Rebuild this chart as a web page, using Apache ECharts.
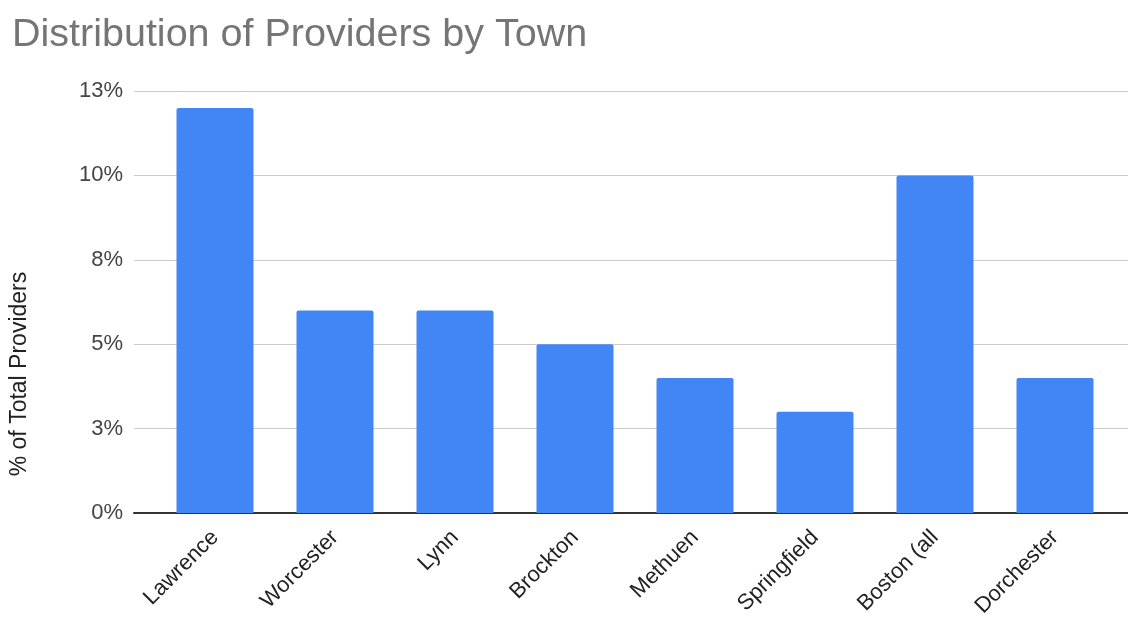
<!DOCTYPE html>
<html>
<head>
<meta charset="utf-8">
<script src="https://cdn.jsdelivr.net/npm/echarts@6/dist/echarts.min.js"></script>
<style>
  html, body { margin: 0; padding: 0; background: #fff; }
  #chart { width: 1128px; height: 625px; }
</style>
</head>
<body>
<div id="chart"></div>
<script>
// Share of all providers located in each town (percent)
const towns = ['Lawrence', 'Worcester', 'Lynn', 'Brockton', 'Methuen', 'Springfield', 'Boston (all', 'Dorchester'];
const shareOfProviders = [12, 6, 6, 5, 4, 3, 10, 4];
const yTicks = { min: 0, max: 12.5, step: 2.5 };

const FONT = '"Liberation Sans", Arial, sans-serif';
const chart = echarts.init(document.getElementById('chart'));

chart.setOption({
  backgroundColor: '#ffffff',
  animation: false,
  title: {
    text: 'Distribution of Providers by Town',
    left: 7,
    top: 10,
    textStyle: { fontFamily: FONT, fontSize: 39.5, fontWeight: 'normal', color: '#757575' }
  },
  grid: [
    // frame with the value scale and full-width gridlines
    { left: 133, right: 0, top: 91, bottom: 112 },
    // plotting band for the bars
    { left: 155, right: 13, top: 91, bottom: 112 }
  ],
  xAxis: [
    {
      type: 'category', gridIndex: 0, data: [''],
      axisLine: { show: true, lineStyle: { color: '#333', width: 2 } },
      axisTick: { show: false }, axisLabel: { show: false }
    },
    {
      type: 'category', gridIndex: 1, data: towns,
      axisLine: { show: false }, axisTick: { show: false },
      axisLabel: {
        rotate: 45, margin: 21, interval: 0,
        fontFamily: FONT, fontSize: 22, color: '#222'
      }
    }
  ],
  yAxis: [
    {
      type: 'value', gridIndex: 0,
      min: yTicks.min, max: yTicks.max, interval: yTicks.step,
      name: '% of Total Providers',
      nameLocation: 'middle', nameRotate: 90, nameGap: 103,
      nameTextStyle: { fontFamily: FONT, fontSize: 23, color: '#222', padding: [0, 0, 0, -144] },
      axisLine: { show: false }, axisTick: { show: false },
      axisLabel: {
        margin: 11, fontFamily: FONT, fontSize: 22, color: '#444',
        formatter: v => Math.round(v) + '%'
      },
      splitLine: { lineStyle: { color: '#cccccc', width: 1 } }
    },
    {
      type: 'value', gridIndex: 1,
      min: yTicks.min, max: yTicks.max, interval: yTicks.step,
      show: false, splitLine: { show: false }
    }
  ],
  series: [{
    type: 'bar',
    xAxisIndex: 1, yAxisIndex: 1,
    data: shareOfProviders,
    barWidth: 77,
    itemStyle: { color: '#4285F4', borderRadius: [2, 2, 0, 0] }
  }]
});
</script>
</body>
</html>
